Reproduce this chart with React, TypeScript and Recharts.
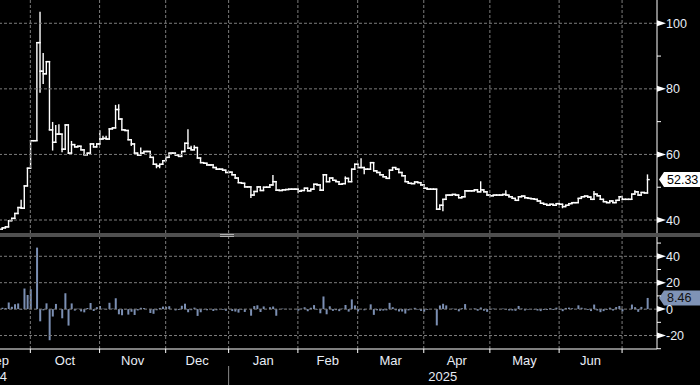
import React from "react";
import { ComposedChart, Bar, XAxis, YAxis, ReferenceLine } from "recharts";

const FONT = "'Liberation Sans', Arial, sans-serif";
const TEXT = "#e8edf6";
const GRID = "#7c7c7c";

// open of the first visible bar (left tick at the chart edge)
const firstOpen = 37.2;

// daily closes, one array per month
const sepCloses = [37.6, 37.9, 39.8, 40.5, 42.0, 43.8, 43.6, 50.4, 55.8];
const octCloses = [64.2, 64.2, 94.1, 85.4, 84.6, 88.3, 67.5, 63.7, 66.2, 66.2, 61.6, 69.0, 60.4, 63.0, 62.3, 62.5, 61.4, 59.9, 60.4, 63.2, 62.3, 63.2];
const novCloses = [64.7, 64.9, 64.7, 67.8, 68.1, 73.7, 70.8, 67.5, 67.3, 64.5, 63.2, 60.4, 59.8, 60.4, 60.9, 60.9, 59.1, 57.0, 56.5, 57.0, 58.1];
const decCloses = [59.1, 60.4, 60.4, 59.8, 59.4, 60.9, 63.4, 61.9, 61.4, 62.1, 58.9, 57.5, 57.3, 56.8, 56.8, 56.0, 55.5, 55.5, 55.2, 54.5];
const janCloses = [54.6, 53.8, 52.8, 51.4, 51.2, 50.1, 50.1, 47.6, 48.7, 50.1, 49.0, 50.0, 50.0, 50.7, 51.7, 49.1, 49.0, 49.2, 49.3, 49.4, 49.4, 49.4];
const febCloses = [48.8, 49.0, 49.7, 48.9, 49.4, 50.9, 50.7, 49.1, 53.8, 51.7, 52.8, 52.1, 51.7, 50.9, 51.1, 52.7, 51.7, 55.5, 57.0];
const marCloses = [56.0, 56.0, 55.5, 55.5, 57.5, 55.0, 54.5, 53.8, 53.2, 52.7, 55.2, 56.0, 55.5, 54.5, 53.5, 51.7, 51.2, 51.1, 51.6, 51.4, 50.7];
const aprCloses = [49.7, 49.4, 49.4, 49.4, 43.3, 44.5, 46.3, 47.6, 47.6, 47.8, 47.6, 46.8, 47.1, 48.9, 48.9, 48.9, 49.2, 48.6, 49.2, 48.6, 47.6];
const mayCloses = [47.4, 47.6, 47.6, 47.6, 47.8, 47.6, 47.1, 46.6, 46.0, 47.1, 47.3, 46.8, 46.6, 46.5, 46.3, 45.8, 45.1, 44.8, 44.5, 44.8, 44.5, 45.0];
const junCloses = [44.8, 44.1, 44.5, 45.0, 45.3, 45.3, 46.6, 47.1, 47.3, 47.0, 46.3, 47.9, 47.4, 46.3, 45.6, 45.3, 45.8, 45.3, 46.0, 47.1];
const julCloses = [46.3, 46.3, 46.3, 47.9, 48.6, 47.6, 48.4, 48.25, 52.33];

const monthCloses = [sepCloses, octCloses, novCloses, decCloses, janCloses, febCloses, marCloses, aprCloses, mayCloses, junCloses, julCloses];
const monthNames = ["Sep", "Oct", "Nov", "Dec", "Jan", "Feb", "Mar", "Apr", "May", "Jun", "Jul"];

// intraday extremes beyond open/close (bar index -> value)
const highWicks: Record<number, number> = {
  6: 46.0, 12: 103.3, 13: 90.7, 16: 69.7, 17: 68.8, 18: 69.0, 22: 63.9, 29: 63.2,
  31: 67.2, 32: 65.5, 33: 65.5, 36: 74.9, 37: 75.1, 44: 61.9,
  59: 67.5, 60: 62.4, 61: 62.6, 86: 53.5, 109: 53.1, 114: 58.6,
  152: 51.6, 160: 48.9, 188: 48.6, 201: 48.9, 205: 53.7,
};
const lowWicks: Record<number, number> = {
  12: 79.0, 13: 81.7, 16: 61.4, 19: 60.9, 41: 62.8, 49: 56.0, 50: 56.0,
  79: 46.9, 94: 48.4, 115: 54.2, 140: 42.9, 178: 43.8,
};

const priceMajor = [40, 60, 80, 100];
const priceMinor = [50, 70, 90];
const changeMajor = [-20, 0, 20, 40];
const changeMinor = [-30, -10, 10, 30, 50];

const sepLabelAt = -1.5;
const yearLabels = [
  { at: -3, text: "2024" },
  { at: 140, text: "2025" },
];

const X_DOMAIN: [number, number] = [-0.64, 208.1];

const closes = monthCloses.flat();
const monthStarts: number[] = [];
monthCloses.reduce((start, m) => {
  monthStarts.push(start);
  return start + m.length;
}, 0);
const gridStarts = monthStarts.slice(1);
const janStart = monthStarts[monthNames.indexOf("Jan")];

const data = closes.map((close, i) => {
  const open = i === 0 ? firstOpen : closes[i - 1];
  const high = Math.max(open, close, highWicks[i] ?? -Infinity);
  const low = Math.min(open, close, lowWicks[i] ?? Infinity);
  return { i, open, high, low, close, chg: (close / open - 1) * 100 };
});

const last = data[data.length - 1];

const labelAt = new Map<number, string>();
labelAt.set(sepLabelAt, "Sep");
for (let m = 1; m < monthNames.length - 1; m++) {
  labelAt.set((monthStarts[m] + monthStarts[m + 1]) / 2, monthNames[m]);
}
const yearAt = new Map(yearLabels.map((y) => [y.at, y.text]));
const xTicks = [...gridStarts, ...labelAt.keys(), ...yearAt.keys()];

const OhlcShape = (props: any) => {
  const { x, y, width, height, payload } = props;
  if (x == null || y == null || !payload) return null;
  const cx = x + (width || 0) / 2;
  const top = Math.min(y, y + height);
  const bottom = Math.max(y, y + height);
  const span = payload.high - payload.low;
  const toPx = (v: number) => (span > 0 ? top + ((payload.high - v) / span) * (bottom - top) : top);
  const oy = toPx(payload.open);
  const cy = toPx(payload.close);
  const half = 1.6;
  return (
    <g stroke="#ffffff" strokeWidth={1.4} strokeLinecap="square" fill="none">
      <line x1={cx} x2={cx} y1={top} y2={bottom} />
      <line x1={cx - half} x2={cx} y1={oy} y2={oy} />
      <line x1={cx} x2={cx + half} y1={cy} y2={cy} />
    </g>
  );
};

const makeYTick = (major: number[]) => (props: any) => {
  const { x, y, payload } = props;
  const v = payload.value;
  if (!major.includes(v)) {
    return <line x1={x} x2={x + 4} y1={y} y2={y} stroke="#ffffff" />;
  }
  return (
    <g>
      <path d={`M${x},${y - 3}L${x + 9},${y}L${x},${y + 3}Z`} fill="#ffffff" />
      <text x={x + 9} y={y + 4.5} fill={TEXT} fontSize={12.5} fontFamily={FONT}>
        {v}
      </text>
    </g>
  );
};

const renderXTick = (props: any) => {
  const { x, y, payload } = props;
  const v = payload.value;
  if (gridStarts.includes(v)) {
    return (
      <g>
        <line x1={x} x2={x} y1={y} y2={y + 4} stroke="#ffffff" />
        {v === janStart && <line x1={x} x2={x} y1={y + 17} y2={y + 36} stroke="#8a8a8a" />}
      </g>
    );
  }
  if (labelAt.has(v)) {
    return (
      <text x={x} y={y + 16} textAnchor="middle" fill={TEXT} fontSize={13} fontFamily={FONT}>
        {labelAt.get(v)}
      </text>
    );
  }
  if (yearAt.has(v)) {
    return (
      <text x={x} y={y + 31.5} textAnchor="middle" fill={TEXT} fontSize={13} fontFamily={FONT}>
        {yearAt.get(v)}
      </text>
    );
  }
  return null;
};

const ValueTag = (props: any) => {
  const { viewBox, text, fill, color } = props;
  if (!viewBox) return null;
  const tip = viewBox.x + viewBox.width + 2;
  const cy = viewBox.y;
  return (
    <g>
      <path
        d={`M${tip},${cy}L${tip + 5},${cy - 7.5}L${tip + 42},${cy - 7.5}L${tip + 42},${cy + 7.5}L${tip + 5},${cy + 7.5}Z`}
        fill={fill}
      />
      <text x={tip + 8} y={cy + 4.5} fill={color} fontSize={12.5} fontFamily={FONT}>
        {text}
      </text>
    </g>
  );
};

const gridLine = { stroke: GRID, strokeDasharray: "3 2", strokeWidth: 1 };

export default function App() {
  return (
    <div style={{ position: "absolute", left: 0, top: 0, width: 700, height: 385, background: "#000", overflow: "hidden" }}>
      <div style={{ position: "absolute", left: 0, top: 0 }}>
        <ComposedChart width={700} height={233} data={data} margin={{ top: 0, right: 0, bottom: 0, left: 0 }}>
          <XAxis dataKey="i" type="number" domain={X_DOMAIN} allowDataOverflow hide />
          <YAxis
            orientation="right"
            width={43}
            domain={[36.04, 107.1]}
            allowDataOverflow
            ticks={[...priceMajor, ...priceMinor]}
            interval={0}
            tickSize={0}
            tickMargin={0}
            axisLine={{ stroke: "#ffffff" }}
            tickLine={false}
            tick={makeYTick(priceMajor)}
          />
          {priceMajor.map((v) => (
            <ReferenceLine key={"py" + v} y={v} {...gridLine} />
          ))}
          {gridStarts.map((s) => (
            <ReferenceLine key={"px" + s} x={s} {...gridLine} />
          ))}
          <Bar dataKey={(d: any) => [d.low, d.high]} shape={<OhlcShape />} isAnimationActive={false} />
          <ReferenceLine
            y={last.close}
            stroke="none"
            label={<ValueTag text={last.close.toFixed(2)} fill="#ffffff" color="#000000" />}
          />
        </ComposedChart>
      </div>
      <div style={{ position: "absolute", left: 0, top: 233, width: 700, height: 4, background: "#4f4f4f" }} />
      <div style={{ position: "absolute", left: 220, top: 234, width: 14, height: 1, background: "#b0b0b0" }} />
      <div style={{ position: "absolute", left: 220, top: 236, width: 14, height: 1, background: "#b0b0b0" }} />
      <div style={{ position: "absolute", left: 0, top: 237 }}>
        <ComposedChart width={700} height={148} data={data} margin={{ top: 0, right: 0, bottom: 0, left: 0 }}>
          <XAxis
            dataKey="i"
            type="number"
            domain={X_DOMAIN}
            allowDataOverflow
            height={36}
            ticks={xTicks}
            interval={0}
            tickSize={0}
            tickMargin={0}
            axisLine={{ stroke: "#ffffff" }}
            tickLine={false}
            tick={renderXTick}
          />
          <YAxis
            orientation="right"
            width={43}
            domain={[-30.2, 54.6]}
            allowDataOverflow
            ticks={[...changeMajor, ...changeMinor]}
            interval={0}
            tickSize={0}
            tickMargin={0}
            axisLine={{ stroke: "#ffffff" }}
            tickLine={false}
            tick={makeYTick(changeMajor)}
          />
          {changeMajor.map((v) => (
            <ReferenceLine key={"cy" + v} y={v} {...gridLine} />
          ))}
          {gridStarts.map((s) => (
            <ReferenceLine key={"cx" + s} x={s} {...gridLine} />
          ))}
          <Bar dataKey="chg" fill="#7b8fb3" barSize={2} isAnimationActive={false} />
          <ReferenceLine
            y={last.chg}
            stroke="none"
            label={<ValueTag text={last.chg.toFixed(2)} fill="#7f93b6" color="#101010" />}
          />
        </ComposedChart>
      </div>
    </div>
  );
}
